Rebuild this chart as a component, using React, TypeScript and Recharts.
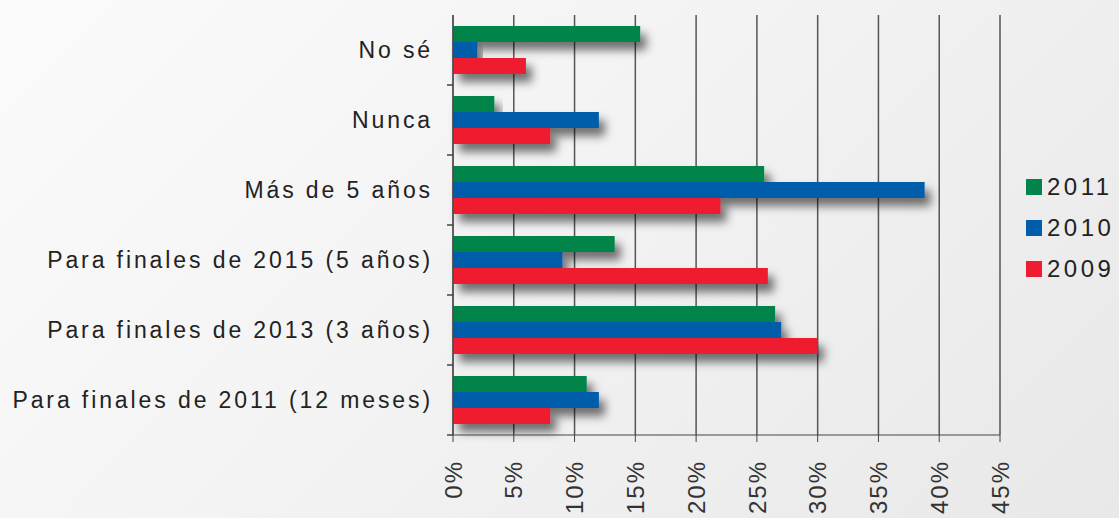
import React from "react";
import { Bar, BarChart, CartesianGrid, XAxis, YAxis } from "recharts";

const categories = [
  "No sé",
  "Nunca",
  "Más de 5 años",
  "Para finales de 2015 (5 años)",
  "Para finales de 2013 (3 años)",
  "Para finales de 2011 (12 meses)",
];
const values2011 = [15.4, 3.4, 25.6, 13.3, 26.5, 11];
const values2010 = [2, 12, 38.8, 9, 27, 12];
const values2009 = [6, 8, 22, 25.9, 30, 8];
const xTicks = [0, 5, 10, 15, 20, 25, 30, 35, 40, 45];

const series = [
  { key: "y2011", name: "2011", color: "#00844a" },
  { key: "y2010", name: "2010", color: "#005daa" },
  { key: "y2009", name: "2009", color: "#ee1c2e" },
];

const data = categories.map((c, i) => ({
  label: c,
  y2011: values2011[i],
  y2010: values2010[i],
  y2009: values2009[i],
}));

const FONT = "'Liberation Sans', Arial, sans-serif";

function ShadowBar(props: any) {
  const { x, y, width, height, fill } = props;
  if (!width || width <= 0) return null;
  return <rect x={x} y={y} width={width} height={height} fill={fill} filter="url(#barShadow)" />;
}

function CategoryTick(props: any) {
  const { x, y, payload } = props;
  return (
    <g>
      <line x1={x + 2} x2={x + 8} y1={y + 35} y2={y + 35} stroke="#444" strokeWidth={1.5} />
      <text
        x={x - 12}
        y={y}
        dy="0.35em"
        textAnchor="end"
        fill="#222"
        fontSize={23}
        letterSpacing={2.9}
        fontFamily={FONT}
      >
        {payload.value}
      </text>
    </g>
  );
}

function PercentTick(props: any) {
  const { x, y, payload } = props;
  return (
    <text
      transform={`translate(${x},${y + 16}) rotate(-90)`}
      dy="0.36em"
      textAnchor="end"
      fill="#333"
      fontSize={24}
      letterSpacing={2}
      fontFamily={FONT}
    >
      {`${payload.value}%`}
    </text>
  );
}

function LegendBox() {
  return (
    <div style={{ position: "absolute", left: 1026, top: 166, fontFamily: FONT }}>
      {series.map((s) => (
        <div key={s.key} style={{ display: "flex", alignItems: "center", height: 41 }}>
          <span style={{ width: 16, height: 16, background: s.color, marginRight: 5 }} />
          <span style={{ fontSize: 24, letterSpacing: 3.5, color: "#222" }}>{s.name}</span>
        </div>
      ))}
    </div>
  );
}

export default function App() {
  return (
    <div
      style={{
        position: "absolute",
        left: 0,
        top: 0,
        width: 1119,
        height: 518,
        background: "linear-gradient(135deg, #fbfbfb 0%, #f3f3f3 45%, #e8e8e8 100%)",
        overflow: "hidden",
      }}
    >
      <BarChart
        width={1119}
        height={518}
        data={data}
        layout="vertical"
        barGap={0}
        barCategoryGap={11}
        margin={{ top: 15, right: 119, bottom: 0, left: 0 }}
      >
        <defs>
          <filter id="barShadow" x="-10%" y="-60%" width="130%" height="280%">
            <feDropShadow dx={6} dy={8} stdDeviation={5} floodColor="#000" floodOpacity={0.55} />
          </filter>
        </defs>
        <CartesianGrid horizontal={false} vertical stroke="#555" strokeWidth={1.5} />
        <XAxis
          type="number"
          domain={[0, 45]}
          ticks={xTicks}
          interval={0}
          height={83}
          stroke="#444"
          tickSize={7}
          tick={<PercentTick />}
        />
        <YAxis
          type="category"
          dataKey="label"
          width={453}
          stroke="#444"
          tickLine={false}
          tick={<CategoryTick />}
        />
        {series.map((s) => (
          <Bar
            key={s.key}
            dataKey={s.key}
            name={s.name}
            fill={s.color}
            barSize={16}
            shape={<ShadowBar />}
            isAnimationActive={false}
          />
        ))}
      </BarChart>
      <LegendBox />
    </div>
  );
}
